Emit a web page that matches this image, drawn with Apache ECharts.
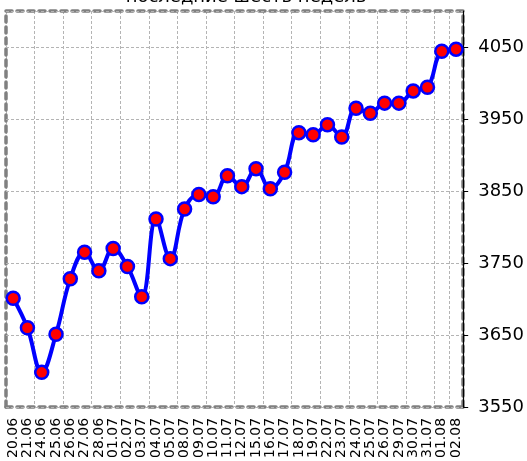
<!DOCTYPE html>
<html><head><meta charset="utf-8">
<script src="https://cdn.jsdelivr.net/npm/echarts@6/dist/echarts.min.js"></script>
<style>html,body{margin:0;padding:0;background:#fff}#c{width:527px;height:461px}</style>
</head><body><div id="c"></div>
<script>
var categories = ["20.06","21.06","24.06","25.06","26.06","27.06","28.06","01.07","02.07","03.07","04.07","05.07","08.07","09.07","10.07","11.07","12.07","15.07","16.07","17.07","18.07","19.07","22.07","23.07","24.07","25.07","26.07","29.07","30.07","31.07","01.08","02.08"];
var values = [3701,3660,3598,3651,3728,3765,3739,3770,3745,3703,3811,3756,3825,3845,3842,3871,3856,3881,3853,3876,3931,3928,3942,3925,3965,3958,3972,3972,3989,3994,4044,4047];
var titleText = "последние шесть недель";
var yMin = 3550, yMax = 4100, yStep = 100;

var spine = {show:true, lineStyle:{color:'#808080', width:3.5, type:[6,5]}};
var grid = {color:'#b4b4b4', width:1, type:[3,2]};
var font = 'DejaVu Sans';
var chart = echarts.init(document.getElementById('c'));
chart.setOption({
  animation:false,
  grid:{left:6, right:63, top:11, bottom:53},
  graphic:[{type:'text', x:246, y:6, style:{text:titleText, fill:'#000', font:'18px "DejaVu Sans"', textAlign:'center', textVerticalAlign:'bottom'}}],
  xAxis:[
    {type:'category', data:categories, boundaryGap:true, position:'bottom',
     axisLine:spine, axisTick:{show:false},
     axisLabel:{rotate:90, fontSize:14, fontFamily:font, color:'#000', margin:11, interval:0},
     splitLine:{show:true, interval:1, lineStyle:grid}},
    {type:'category', data:categories, boundaryGap:true, position:'top',
     axisLine:spine, axisTick:{show:false}, axisLabel:{show:false}, splitLine:{show:false}}
  ],
  yAxis:[
    {type:'value', position:'right', min:yMin, max:yMax, interval:yStep, z:3,
     axisLine:{show:true, lineStyle:{color:'#000', width:1.2}},
     axisTick:{show:true, length:5, lineStyle:{color:'#000', width:1}},
     axisLabel:{fontSize:18, fontFamily:font, color:'#000', margin:15, showMaxLabel:false,
                formatter:function(v){return String(v);}},
     splitLine:{show:true, lineStyle:grid}},
    {type:'value', position:'right', min:yMin, max:yMax, interval:yStep, z:2,
     axisLine:spine, axisTick:{show:false}, axisLabel:{show:false}, splitLine:{show:false}},
    {type:'value', position:'left', min:yMin, max:yMax, interval:yStep,
     axisLine:spine, axisTick:{show:false}, axisLabel:{show:false}, splitLine:{show:false}}
  ],
  series:[{
    type:'line', data:values, xAxisIndex:0, yAxisIndex:0, smooth:0.4,
    lineStyle:{color:'#0000ff', width:4},
    symbol:'circle', symbolSize:13,
    itemStyle:{color:'#ff0000', borderColor:'#0000ff', borderWidth:2.5},
    z:5
  }]
});
</script></body></html>
